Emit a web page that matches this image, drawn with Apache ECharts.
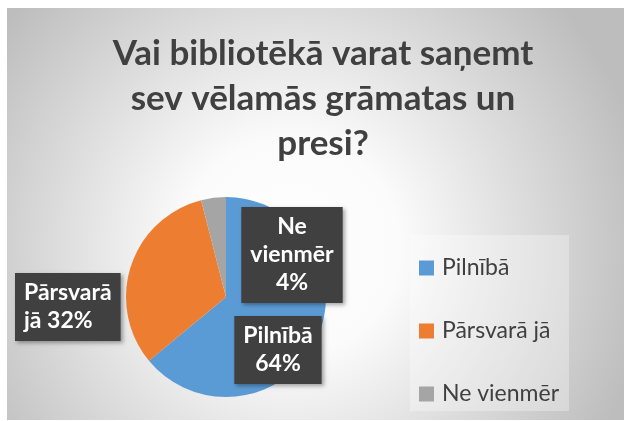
<!DOCTYPE html>
<html>
<head>
<meta charset="utf-8">
<script src="https://cdn.jsdelivr.net/npm/echarts@6/dist/echarts.min.js"></script>
<style>
html, body { margin: 0; padding: 0; background: #fff; }
#chart { width: 624px; height: 421px; }
</style>
</head>
<body>
<div id="chart"></div>
<script>
// dati
var categories = ['Pilnībā', 'Pārsvarā jā', 'Ne vienmēr'];
var percents = [64, 32, 4];
var labelFormats = ['Pilnībā\n{d}%', 'Pārsvarā\njā {d}%', 'Ne\nvienmēr\n{d}%'];
var colors = ['#5B9BD5', '#ED7D31', '#A5A5A5'];

// etiķešu kastīšu vietas
var labelSpots = [
    { x: 278, y: 350, align: 'center' },
    { x: 15, y: 307, align: 'left' },
    { x: 292, y: 255, align: 'center' }
];

var chart = echarts.init(document.getElementById('chart'));

var pieData = categories.map(function (name, i) {
    return {
        name: name,
        value: percents[i],
        itemStyle: { color: colors[i] },
        label: { formatter: labelFormats[i] }
    };
});

var option = {
    animation: false,
    graphic: [{
        type: 'rect',
        left: 7,
        top: 8,
        z: -10,
        silent: true,
        shape: { width: 617, height: 412 },
        style: {
            fill: new echarts.graphic.RadialGradient(0.46, 0.58, 0.88, [
                { offset: 0, color: '#ffffff' },
                { offset: 0.3, color: '#fbfbfb' },
                { offset: 1, color: '#bdbdbd' }
            ])
        }
    }],
    title: {
        text: 'Vai bibliotēkā varat saņemt\nsev vēlamās grāmatas un\npresi?',
        left: 318,
        top: 26,
        textAlign: 'center',
        textStyle: {
            fontFamily: 'Lato',
            fontWeight: 'bold',
            fontSize: 35,
            lineHeight: 45,
            color: '#404040'
        }
    },
    legend: {
        orient: 'vertical',
        left: 410,
        top: 235,
        padding: [20, 10, 4, 9],
        backgroundColor: 'rgba(255,255,255,0.3)',
        itemWidth: 15,
        itemHeight: 15,
        itemGap: 37,
        icon: 'rect',
        data: categories,
        textStyle: {
            fontFamily: 'Lato',
            fontSize: 23,
            lineHeight: 26,
            color: '#404040',
            padding: [0, 0, 0, 3]
        }
    },
    series: [{
        type: 'pie',
        center: [226, 297],
        radius: 100,
        startAngle: 90,
        clockwise: true,
        data: pieData,
        label: {
            show: true,
            position: 'inside',
            overflow: 'none',
            color: '#ffffff',
            fontFamily: 'Lato',
            fontWeight: 'bold',
            fontSize: 23,
            lineHeight: 28,
            backgroundColor: '#404040',
            padding: [6, 9],
            shadowColor: 'rgba(0,0,0,0.35)',
            shadowBlur: 4,
            shadowOffsetX: 2,
            shadowOffsetY: 2
        },
        labelLine: { show: false },
        labelLayout: function (params) {
            var s = labelSpots[params.dataIndex];
            return { x: s.x, y: s.y, align: s.align, verticalAlign: 'middle' };
        },
        emphasis: { disabled: true }
    }]
};

chart.setOption(option);
</script>
</body>
</html>
